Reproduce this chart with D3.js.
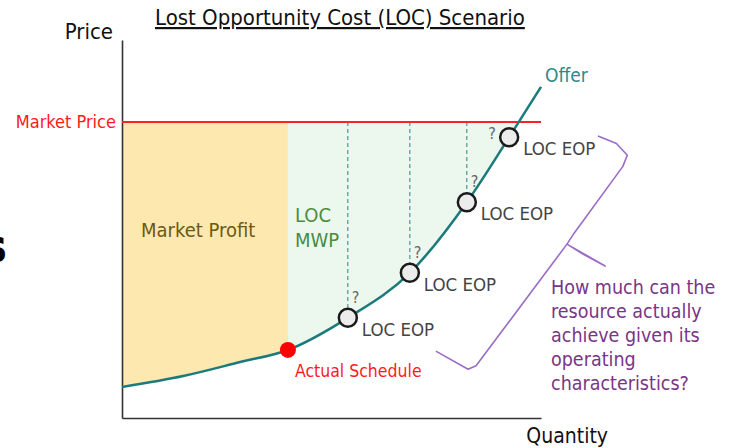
<!DOCTYPE html>
<html lang="en">
<head>
<meta charset="UTF-8">
<title>Lost Opportunity Cost (LOC) Scenario</title>
<style>
  body { margin: 0; background: #fff; }
  svg { display: block; font-family: "DejaVu Sans Condensed", "DejaVu Sans", sans-serif; }
  .axis path { stroke: #333; stroke-width: 1.6; }
</style>
</head>
<body>
<svg id="chart"></svg>
<script src="https://cdn.jsdelivr.net/npm/d3@7"></script>
<script>
// offer curve, quantity / price in % of axis
const offerQty   = [0, 14.6, 28.2, 39.6, 53.9, 68.7, 82.3, 92.4, 100];
const offerPrice = [8.2, 11.1, 14.8, 18.0, 26.5, 38.4, 57.1, 74.3, 87.6];
// economic operating points (LOC EOP)
const eopQty   = [53.9, 68.7, 82.3, 92.4];
const eopPrice = [26.5, 38.4, 57.1, 74.3];
const eopLabels = ["LOC EOP", "LOC EOP", "LOC EOP", "LOC EOP"];
// actual schedule + market price
const actualQty = 39.6, actualPrice = 18.0;
const marketPrice = 78.3;
// bracket, in chart units
const braceQty   = [113.6, 118, 120.6, 119.5, 107.9, 106.2, 110, 115.3, 106.2, 84.5, 82.6, 74.9];
const bracePrice = [74.6, 72.6, 69.5, 66.5, 48.9, 46.0, 43.4, 40.2, 46.0, 13.8, 12.9, 17.7];
const noteLines = ["How much can the", "resource actually", "achieve given its", "operating", "characteristics?"];

const width = 730, height = 448;
const svg = d3.select("#chart").attr("width", width).attr("height", height);

const x = d3.scaleLinear().domain([0, 100]).range([122, 541]);
const y = d3.scaleLinear().domain([0, 100]).range([418, 40]);

const offer = offerQty.map((q, i) => ({q: q, p: offerPrice[i]}));

// region above the offer curve, used to clip the shaded areas
const above = d3.area()
  .x(d => x(d.q))
  .y0(y(100))
  .y1(d => y(d.p))
  .curve(d3.curveMonotoneX);

svg.append("clipPath").attr("id", "aboveCurve")
  .append("path").attr("d", above(offer));

const shade = svg.append("g").attr("clip-path", "url(#aboveCurve)");
shade.append("rect")
  .attr("x", x(0)).attr("y", y(marketPrice))
  .attr("width", x(actualQty) - x(0)).attr("height", y(0) - y(marketPrice))
  .attr("fill", "#fde9b0");
shade.append("rect")
  .attr("x", x(actualQty)).attr("y", y(marketPrice))
  .attr("width", x(100) - x(actualQty)).attr("height", y(0) - y(marketPrice))
  .attr("fill", "#ecf7ee");

// dashed drops from market price
const r = 9;
svg.selectAll(".drop")
  .data(eopQty.slice(0, 3))
  .enter().append("line")
  .attr("class", "drop")
  .attr("x1", d => x(d)).attr("x2", d => x(d))
  .attr("y1", y(marketPrice))
  .attr("y2", (d, i) => y(eopPrice[i]) - r)
  .attr("stroke", "#2a8585").attr("stroke-width", 1)
  .attr("stroke-dasharray", "4,3");

// axes, no ticks
svg.append("g").attr("class", "axis")
  .attr("transform", "translate(0," + y(0) + ")")
  .call(d3.axisBottom(x).ticks(0).tickSizeOuter(0));
svg.append("g").attr("class", "axis")
  .attr("transform", "translate(" + x(0) + ",0)")
  .call(d3.axisLeft(y).ticks(0).tickSizeOuter(0));

// market price line
svg.append("line")
  .attr("x1", x(0)).attr("x2", x(100))
  .attr("y1", y(marketPrice)).attr("y2", y(marketPrice))
  .attr("stroke", "#ff2020").attr("stroke-width", 2);

// offer curve
const line = d3.line().x(d => x(d.q)).y(d => y(d.p)).curve(d3.curveMonotoneX);
svg.append("path")
  .attr("d", line(offer))
  .attr("fill", "none")
  .attr("stroke", "#1b7b7b")
  .attr("stroke-width", 2.5);

// actual schedule
svg.append("circle")
  .attr("cx", x(actualQty)).attr("cy", y(actualPrice)).attr("r", 8)
  .attr("fill", "#ff0000");

// EOP points
svg.selectAll(".eop")
  .data(eopQty)
  .enter().append("circle")
  .attr("class", "eop")
  .attr("cx", d => x(d)).attr("cy", (d, i) => y(eopPrice[i])).attr("r", r)
  .attr("fill", "#ececec").attr("stroke", "#1a1a1a").attr("stroke-width", 2.5);

svg.selectAll(".eopLbl")
  .data(eopLabels)
  .enter().append("text")
  .attr("class", "eopLbl")
  .attr("x", (d, i) => x(eopQty[i]) + 14)
  .attr("y", (d, i) => y(eopPrice[i]) + 18)
  .attr("fill", "#444").style("font-size", "18.5px")
  .text(d => d);

svg.selectAll(".qmark")
  .data(eopQty)
  .enter().append("text")
  .attr("class", "qmark")
  .attr("x", (d, i) => i === 3 ? x(d) - 21 : x(d) + 4)
  .attr("y", (d, i) => i === 3 ? y(eopPrice[i]) + 2 : y(eopPrice[i]) - 15)
  .attr("fill", "#666").style("font-size", "16px")
  .text("?");

// bracket
const brace = braceQty.map((q, i) => ({q: q, p: bracePrice[i]}));
svg.append("path")
  .attr("d", d3.line().x(d => x(d.q)).y(d => y(d.p))(brace))
  .attr("fill", "none")
  .attr("stroke", "#9a6cc6").attr("stroke-width", 1.6)
  .attr("stroke-linejoin", "round");

// texts
svg.append("text")
  .attr("x", 155).attr("y", 25)
  .attr("fill", "#111").style("font-size", "22px")
  .attr("text-decoration", "underline")
  .text("Lost Opportunity Cost (LOC) Scenario");

svg.append("text")
  .attr("x", 113).attr("y", 39).attr("text-anchor", "end")
  .attr("fill", "#111").style("font-size", "22px")
  .text("Price");

svg.append("text")
  .attr("x", 608).attr("y", 443).attr("text-anchor", "end")
  .attr("fill", "#111").style("font-size", "21px")
  .text("Quantity");

svg.append("text")
  .attr("x", x(0) - 6).attr("y", y(marketPrice) + 6).attr("text-anchor", "end")
  .attr("fill", "#ff1a1a").style("font-size", "18px")
  .text("Market Price");

svg.append("text")
  .attr("x", 141).attr("y", 237)
  .attr("fill", "#6b5a12").style("font-size", "20px")
  .text("Market Profit");

svg.append("text")
  .attr("x", 295).attr("y", 222)
  .attr("fill", "#4a8c3c").style("font-size", "20px")
  .text("LOC");
svg.append("text")
  .attr("x", 295).attr("y", 247)
  .attr("fill", "#4a8c3c").style("font-size", "20px")
  .text("MWP");

svg.append("text")
  .attr("x", 545).attr("y", 82)
  .attr("fill", "#2a8a8a").style("font-size", "19px")
  .text("Offer");

svg.append("text")
  .attr("x", x(actualQty) + 7).attr("y", 377)
  .attr("fill", "#ff1a1a").style("font-size", "17.5px")
  .text("Actual Schedule");

svg.selectAll(".note")
  .data(noteLines)
  .enter().append("text")
  .attr("class", "note")
  .attr("x", 551).attr("y", (d, i) => 294 + i * 24)
  .attr("fill", "#7a3488").style("font-size", "19.5px")
  .text(d => d);

// clipped letter at the left edge (it is cut in the source too)
svg.append("text")
  .attr("x", 7).attr("y", 262).attr("text-anchor", "end")
  .attr("fill", "#000").style("font-size", "46px").style("font-weight", "bold")
  .text("s");
</script>
</body>
</html>
